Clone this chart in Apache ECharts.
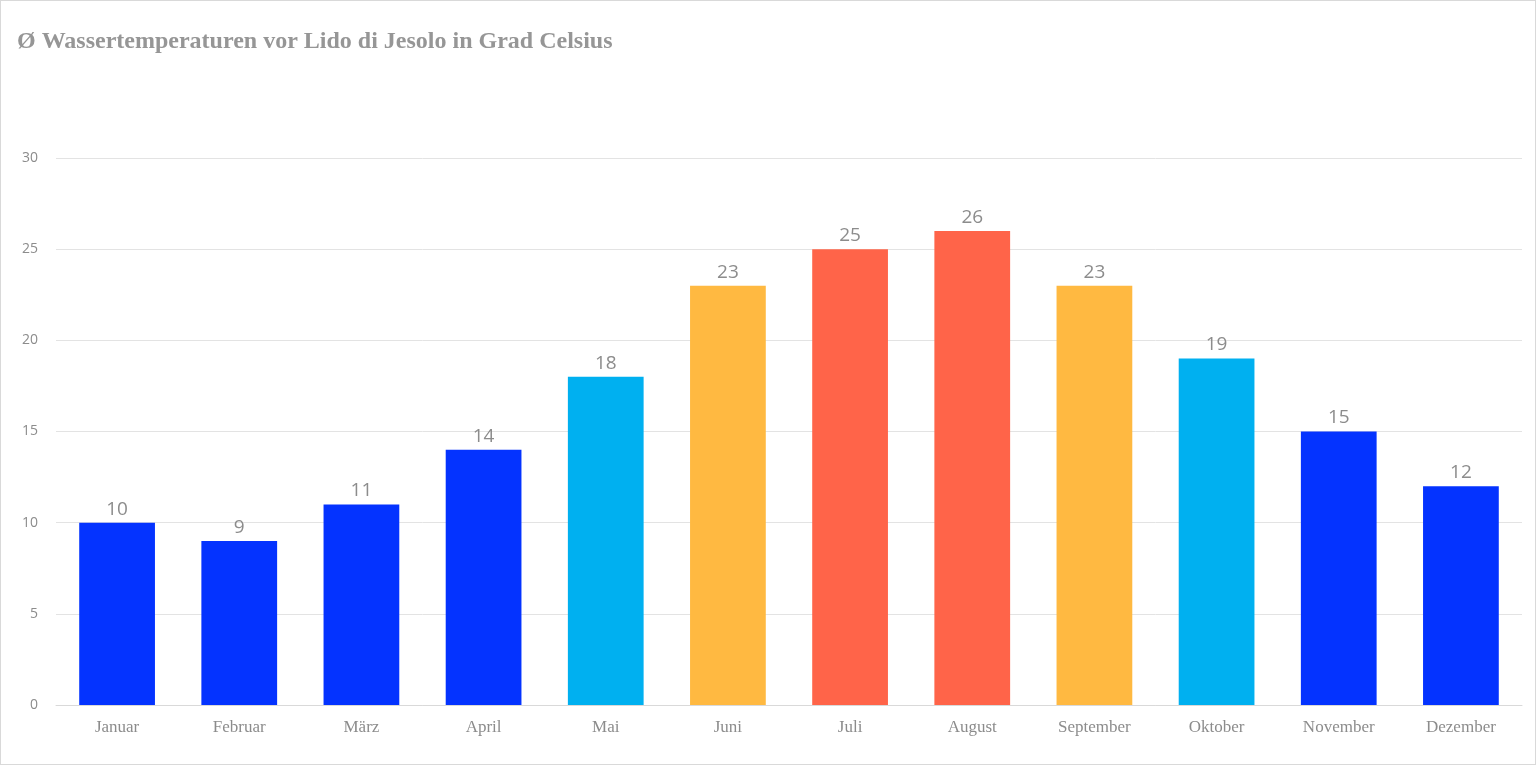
<!DOCTYPE html>
<html><head><meta charset="utf-8">
<script src="https://cdn.jsdelivr.net/npm/echarts@6/dist/echarts.min.js"></script>
<style>html,body{margin:0;padding:0;background:#fff}#c{width:1536px;height:765px;box-sizing:border-box;border:1px solid #d9d9d9}</style>
</head><body><div id="c"></div>
<script>
const months = ["Januar","Februar","März","April","Mai","Juni","Juli","August","September","Oktober","November","Dezember"];
const temps = [10,9,11,14,18,23,25,26,23,19,15,12];
const barColors = ["#0433FF","#0433FF","#0433FF","#0433FF","#00B0F0","#FFB941","#FF6449","#FF6449","#FFB941","#00B0F0","#0433FF","#0433FF"];
const yTicks = [0,5,10,15,20,25,30];
const chart = echarts.init(document.getElementById('c'));
chart.setOption({
  animation:false,
  title:{text:"Ø Wassertemperaturen vor Lido di Jesolo in Grad Celsius",left:11,top:24,
    textStyle:{fontFamily:"Liberation Serif",fontWeight:"bold",fontSize:24,color:"#969696"}},
  grid:{left:55,right:13,top:157,bottom:59},
  xAxis:{type:"category",data:months,axisTick:{show:false},
    axisLine:{lineStyle:{color:"#d9d9d9"}},
    axisLabel:{fontFamily:"Liberation Serif",fontSize:17,color:"#8c8c8c",margin:14}},
  yAxis:{type:"value",min:yTicks[0],max:yTicks[yTicks.length-1],interval:5,
    axisLabel:{fontFamily:"Open Sans",fontSize:14,color:"#8c8c8c",margin:18},
    splitLine:{lineStyle:{color:"#e3e3e3"}}},
  series:[{type:"bar",barWidth:"62%",
    data:temps.map((v,i)=>({value:v,itemStyle:{color:barColors[i]}})),
    label:{show:true,position:"top",fontFamily:"Open Sans",fontSize:19,color:"#8c8c8c",distance:4}}]
});
</script></body></html>
